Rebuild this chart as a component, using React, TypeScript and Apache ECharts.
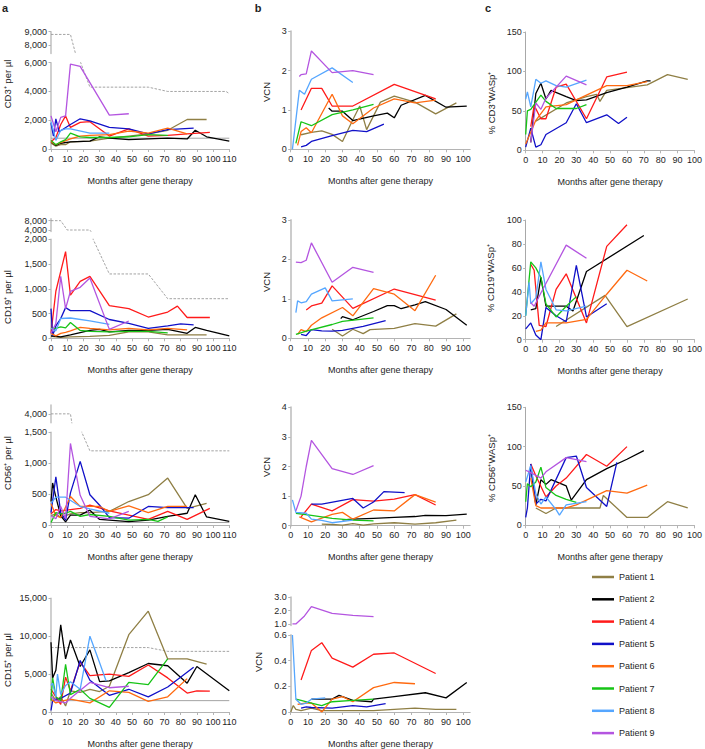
import React, { useEffect, useRef } from 'react';
import * as echarts from 'echarts';

type Pts = [number, number][];

const patients = ['Patient 1', 'Patient 2', 'Patient 4', 'Patient 5', 'Patient 6', 'Patient 7', 'Patient 8', 'Patient 9'];
const patientColors = ['#8f7f45', '#000000', '#ff1a1a', '#1010c8', '#ff6a10', '#16c416', '#55a6ff', '#b455e0'];
const monthTicksA = [0, 10, 20, 30, 40, 50, 60, 70, 80, 90, 100, 110];
const monthTicksBC = [0, 10, 20, 30, 40, 50, 60, 70, 80, 90, 100];

// ---- Row 1: CD3 ----
const cd3Counts: Pts[] = [
  [[0, 400], [3, 200], [6, 300], [9, 300], [12, 500], [24, 550], [36, 750], [48, 900], [60, 1050], [72, 1300], [84, 2050], [96, 2050]],
  [[0, 500], [3, 250], [6, 400], [12, 500], [24, 550], [30, 850], [36, 750], [48, 650], [60, 700], [72, 750], [84, 700], [89, 1300], [96, 850], [110, 550]],
  [[0, 500], [3, 800], [6, 1700], [9, 2300], [12, 1500], [18, 1850], [24, 1900], [36, 900], [48, 1400], [60, 900], [72, 950], [84, 1050], [98, 1150]],
  [[0, 1800], [1.5, 900], [3, 2100], [5, 1200], [12, 1700], [18, 2100], [24, 1950], [36, 1500], [48, 1400], [60, 1050], [72, 1350], [88, 1450]],
  [[0, 500], [3, 300], [6, 450], [12, 700], [18, 900], [24, 950], [36, 1000], [48, 1250], [60, 1100], [72, 1450], [84, 1050]],
  [[0, 600], [3, 300], [6, 500], [9, 650], [12, 1100], [18, 850], [24, 800], [36, 800], [48, 850], [60, 1000], [72, 950]],
  [[0, 1900], [3, 600], [6, 1300], [9, 1400], [12, 1400], [24, 1100], [36, 1100]],
  [[0, 2300], [3, 1200], [6, 2200], [9, 2300], [12, 5900], [18, 5750], [36, 2350], [48, 2450]],
];
const cd3UpperNormal: Pts = [[0, 8800], [12, 8800], [18, 6100], [24, 4300], [60, 4300], [72, 4000], [108, 4000], [110, 3850]];
const cd3LowerNormal: Pts = [[0, 750], [110, 750]];

const cd3Vcn: Pts[] = [
  [[6, 0.37], [12, 0.43], [18, 0.47], [24, 0.38], [30, 0.2], [36, 0.75], [40, 1.1], [44, 0.5], [52, 1.2], [60, 1.35], [72, 1.2], [84, 0.9], [96, 1.18]],
  [[22, 1.05], [24, 0.97], [30, 0.97], [36, 0.73], [48, 0.85], [56, 0.92], [60, 0.8], [64, 1.12], [78, 1.37], [90, 1.07], [102, 1.1]],
  [[6, 1.0], [12, 1.55], [18, 1.55], [24, 1.1], [36, 1.1], [60, 1.65], [84, 1.28]],
  [[6, 0.06], [9, 0.1], [12, 0.2], [24, 0.35], [36, 0.48], [44, 0.45], [54, 0.64]],
  [[4, 0.1], [6, 0.45], [9, 0.55], [12, 0.42], [24, 1.4], [30, 0.85], [36, 0.65], [48, 1.05], [60, 1.28], [72, 1.18], [84, 1.25]],
  [[3, 0.15], [6, 0.7], [12, 0.6], [24, 0.88], [36, 1.0], [48, 1.14]],
  [[1, 0.0], [5, 1.5], [8, 1.4], [12, 1.78], [24, 2.07], [36, 1.7]],
  [[5, 1.85], [6, 1.9], [9, 1.92], [12, 2.5], [24, 1.95], [36, 2.0], [48, 1.9]],
];

const cd3Wasp: Pts[] = [
  [[6, 37], [24, 60], [36, 68], [42, 71], [44, 62], [48, 76], [72, 83], [84, 96], [96, 90]],
  [[3, 10], [6, 72], [9, 85], [12, 65], [15, 76], [24, 68], [30, 63], [36, 64], [48, 73], [60, 80], [72, 88], [74, 88]],
  [[3, 30], [5, 57], [9, 40], [12, 40], [18, 80], [24, 84], [36, 40], [48, 93], [60, 99]],
  [[0, 4], [3, 28], [6, 4], [9, 7], [12, 20], [24, 35], [30, 59], [36, 35], [48, 45], [55, 34], [60, 42]],
  [[0, 8], [6, 38], [12, 55], [24, 58], [36, 70], [48, 82], [60, 82], [72, 87]],
  [[0, 20], [1, 50], [3, 52], [9, 70], [12, 62], [18, 53], [24, 53], [30, 53], [36, 58]],
  [[0, 65], [1, 74], [3, 55], [6, 90], [9, 85], [12, 88], [18, 82], [24, 80], [36, 89]],
  [[3, 10], [6, 60], [9, 52], [12, 66], [24, 94], [36, 83]],
];

// ---- Row 2: CD19 ----
const cd19Counts: Pts[] = [
  [[0, 40], [6, 20], [12, 30], [24, 40], [36, 60], [48, 130], [60, 130], [72, 70], [84, 70], [96, 70]],
  [[0, 50], [6, 30], [12, 70], [24, 160], [30, 180], [36, 130], [48, 160], [60, 160], [72, 180], [84, 100], [89, 220], [96, 160], [110, 50]],
  [[0, 100], [3, 950], [9, 1750], [12, 870], [18, 1150], [24, 1250], [36, 660], [48, 600], [60, 430], [72, 530], [78, 650], [84, 420], [98, 420]],
  [[0, 600], [1, 50], [3, 250], [6, 400], [9, 620], [12, 560], [24, 560], [36, 380], [48, 300], [60, 200], [72, 250], [80, 290], [88, 270]],
  [[0, 100], [3, 50], [6, 100], [9, 120], [12, 150], [18, 220], [24, 200], [36, 170], [48, 200], [60, 170], [72, 200], [84, 170]],
  [[0, 200], [3, 200], [6, 230], [9, 210], [12, 320], [18, 160], [24, 140], [36, 130], [48, 140], [60, 140], [72, 110]],
  [[0, 200], [3, 150], [6, 400], [12, 410], [24, 350], [36, 280]],
  [[0, 100], [3, 300], [6, 1250], [9, 600], [12, 950], [18, 1030], [24, 1220], [36, 180], [48, 350]],
];
const cd19UpperNormal: Pts = [[0, 8000], [6, 8000], [10, 4000], [24, 4000], [26, 2000], [36, 1300], [60, 1300], [72, 800], [110, 800]];

const cd19Vcn: Pts[] = [
  [[24, 0.23], [30, 0.06], [36, 0.23], [42, 0.12], [46, 0.22], [60, 0.25], [72, 0.37], [84, 0.31], [96, 0.62]],
  [[29, 0.5], [30, 0.55], [36, 0.47], [48, 0.68], [56, 0.83], [60, 0.83], [64, 0.75], [72, 0.85], [78, 0.93], [90, 0.73], [102, 0.33]],
  [[9, 0.72], [12, 0.82], [18, 0.89], [24, 1.33], [36, 0.76], [60, 1.25], [84, 0.97]],
  [[6, 0.1], [9, 0.07], [12, 0.22], [18, 0.19], [24, 0.18], [30, 0.2], [42, 0.3], [55, 0.45]],
  [[4, 0.1], [6, 0.22], [9, 0.17], [12, 0.33], [18, 0.52], [30, 0.78], [36, 0.57], [48, 1.26], [60, 1.12], [72, 0.7], [84, 1.6]],
  [[3, 0.1], [9, 0.18], [24, 0.35], [30, 0.43], [48, 0.52]],
  [[3, 0.65], [4, 0.95], [6, 0.9], [9, 0.93], [12, 1.12], [20, 1.28], [24, 0.95], [36, 1.0]],
  [[3, 1.93], [6, 1.92], [9, 1.98], [12, 2.42], [24, 1.42], [36, 1.8], [48, 1.67]],
];

const cd19Wasp: Pts[] = [
  [[18, 11], [47, 37], [60, 11], [96, 34]],
  [[3, 25], [6, 26], [9, 52], [12, 28], [24, 28], [28, 24], [36, 57], [70, 87]],
  [[3, 63], [5, 58], [8, 12], [12, 11], [18, 42], [24, 55], [36, 14], [48, 78], [60, 96]],
  [[0, 9], [3, 14], [6, 4], [9, 0], [12, 27], [18, 20], [24, 15], [30, 62], [36, 19], [48, 30]],
  [[6, 7], [9, 8], [12, 14], [24, 14], [36, 17], [48, 38], [60, 58], [72, 49]],
  [[0, 20], [3, 65], [6, 60], [9, 52], [12, 30], [18, 19], [24, 28], [30, 36]],
  [[0, 20], [2, 48], [3, 30], [6, 35], [9, 65], [12, 42], [18, 25], [24, 24], [36, 28]],
  [[3, 31], [5, 28], [9, 39], [24, 79], [36, 68]],
];

// ---- Row 3: CD56 ----
const cd56Counts: Pts[] = [
  [[0, 150], [3, 180], [6, 120], [12, 180], [18, 200], [24, 200], [36, 220], [48, 380], [60, 490], [72, 760], [84, 270], [96, 350]],
  [[0, 380], [1, 680], [3, 450], [6, 150], [9, 50], [12, 160], [18, 160], [24, 240], [30, 90], [36, 80], [48, 55], [60, 80], [72, 140], [84, 190], [89, 490], [96, 130], [110, 60]],
  [[0, 180], [3, 250], [6, 230], [12, 250], [18, 270], [24, 320], [36, 230], [48, 160], [60, 90], [72, 220], [84, 90], [98, 270]],
  [[0, 200], [3, 780], [6, 200], [9, 80], [12, 520], [18, 1030], [24, 490], [30, 320], [36, 120], [48, 110], [60, 300], [72, 280], [88, 280]],
  [[0, 350], [3, 150], [6, 120], [12, 460], [18, 300], [24, 300], [30, 300], [36, 220], [48, 310], [60, 200], [72, 300], [84, 300]],
  [[0, 40], [3, 200], [6, 180], [9, 190], [12, 220], [18, 140], [24, 170], [36, 140], [48, 80], [60, 90], [66, 60], [72, 130]],
  [[0, 350], [3, 450], [6, 450], [9, 450], [18, 300], [24, 260], [36, 190]],
  [[0, 150], [3, 100], [6, 300], [9, 100], [12, 1320], [18, 480], [24, 140], [36, 100], [48, 220]],
];
const cd56UpperNormal: Pts = [[0, 4000], [12, 4000], [19, 1500], [24, 1200], [110, 1200]];
const cd56LowerNormal: Pts = [[0, 40], [110, 40]];

const cd56Vcn: Pts[] = [
  [[18, 0.05], [24, 0.04], [30, 0.02], [36, 0.07], [42, 0.02], [48, 0.06], [60, 0.1], [72, 0.05], [84, 0.1], [96, 0.19]],
  [[30, 0.2], [36, 0.22], [48, 0.25], [60, 0.28], [72, 0.31], [78, 0.35], [90, 0.34], [102, 0.39]],
  [[6, 0.3], [12, 0.73], [24, 0.5], [36, 0.88], [48, 0.83], [60, 0.9], [72, 1.05], [84, 0.7]],
  [[12, 0.73], [18, 0.73], [36, 0.92], [42, 0.6], [48, 0.8], [54, 1.15], [66, 1.12]],
  [[5, 0.3], [12, 0.13], [24, 0.38], [30, 0.45], [36, 0.22], [48, 0.53], [60, 0.5], [72, 1.05], [84, 0.8]],
  [[3, 0.42], [12, 0.35], [24, 0.25], [36, 0.19], [48, 0.16]],
  [[1, 0.87], [3, 0.45], [9, 0.42], [12, 0.22], [18, 0.18], [24, 0.1], [36, 0.19]],
  [[3, 0.5], [6, 1.0], [9, 2.0], [12, 2.88], [24, 1.93], [36, 1.73], [48, 2.03]],
];

const cd56Wasp: Pts[] = [
  [[6, 22], [12, 15], [18, 22], [24, 22], [36, 22], [44, 22], [46, 38], [60, 10], [72, 10], [84, 30], [96, 22]],
  [[3, 74], [6, 26], [9, 58], [12, 52], [15, 58], [24, 50], [27, 32], [36, 58], [48, 72], [60, 84], [70, 95]],
  [[3, 78], [6, 63], [12, 36], [18, 50], [24, 60], [36, 90], [48, 75], [60, 100]],
  [[0, 10], [1, 22], [3, 78], [6, 27], [9, 33], [12, 31], [24, 86], [30, 88], [36, 48], [48, 24], [54, 80]],
  [[3, 60], [6, 25], [9, 22], [12, 22], [24, 22], [30, 26], [36, 32], [48, 44], [60, 41], [72, 51]],
  [[0, 30], [1, 53], [3, 49], [6, 55], [9, 74], [12, 48], [18, 38], [24, 33], [30, 29]],
  [[0, 55], [3, 76], [6, 40], [9, 27], [12, 36], [18, 20], [20, 13], [24, 26], [36, 30]],
  [[0, 70], [3, 67], [9, 60], [12, 68], [24, 86], [36, 81]],
];

// ---- Row 4: CD15 ----
const cd15Counts: Pts[] = [
  [[0, 2500], [3, 1500], [6, 2000], [9, 800], [12, 2800], [18, 2600], [24, 3000], [30, 2700], [36, 3400], [48, 10200], [60, 13300], [72, 7000], [84, 7000], [96, 6300]],
  [[0, 9200], [1, 4500], [3, 5500], [6, 11500], [9, 7000], [12, 9500], [18, 6000], [24, 8200], [30, 4000], [36, 4100], [48, 5200], [60, 6400], [72, 6100], [84, 3800], [90, 6000], [110, 2800]],
  [[0, 3000], [3, 2000], [6, 1000], [9, 4600], [12, 2800], [18, 6600], [24, 4800], [36, 5000], [48, 4700], [60, 6200], [72, 4500], [84, 2500], [90, 2800], [98, 2750]],
  [[0, 200], [1, 1500], [3, 1700], [6, 1800], [12, 2500], [18, 6800], [24, 4200], [36, 2200], [48, 3000], [60, 2000], [72, 3300], [88, 5900]],
  [[0, 1700], [3, 1200], [6, 1400], [12, 1700], [24, 1200], [36, 2800], [48, 2600], [60, 1400], [72, 2000], [84, 4400]],
  [[0, 1500], [1, 4500], [3, 2000], [6, 1500], [9, 6300], [12, 2300], [18, 3000], [24, 1800], [36, 600], [48, 3900], [60, 3600], [72, 7000]],
  [[0, 3500], [1, 3800], [3, 2000], [4, 5000], [6, 2300], [9, 3500], [12, 4000], [18, 3000], [24, 10000], [30, 6500], [34, 4100]],
  [[0, 2000], [3, 1500], [9, 1200], [12, 1800], [24, 3900], [36, 3200], [48, 3400]],
];
const cd15UpperNormal: Pts = [[0, 8500], [60, 8500], [72, 8000], [110, 8000]];
const cd15LowerNormal: Pts = [[0, 1500], [110, 1500]];

const cd15Vcn: Pts[] = [
  [[0, 0], [1.5, 0.05], [3, 0.02], [6, 0.01], [12, 0.03], [18, 0.01], [24, 0.01], [36, 0.01], [48, 0.01], [60, 0.02], [72, 0.03], [84, 0.02], [96, 0.02]],
  [[12, 0.1], [18, 0.1], [24, 0.1], [28, 0.13], [36, 0.09], [47, 0.08], [48, 0.1], [60, 0.12], [78, 0.15], [90, 0.11], [102, 0.23]],
  [[6, 0.25], [12, 0.48], [18, 0.54], [24, 0.42], [36, 0.35], [48, 0.45], [60, 0.46], [84, 0.3]],
  [[6, 0.03], [9, 0.04], [12, 0.035], [24, 0.03], [36, 0.05], [44, 0.04], [55, 0.065]],
  [[4, 0.06], [9, 0.07], [12, 0.07], [18, 0.0], [24, 0.1], [30, 0.12], [36, 0.08], [48, 0.19], [60, 0.23], [72, 0.22]],
  [[3, 0.1], [6, 0.09], [12, 0.07], [18, 0.05], [24, 0.08], [36, 0.09], [48, 0.1]],
  [[1, 0.6], [3, 0.1], [6, 0.06], [9, 0.07], [12, 0.1], [20, 0.11]],
  [[1, 1.0], [3, 1.0], [8, 1.6], [12, 2.3], [24, 1.8], [36, 1.65], [48, 1.55]],
];

const FONT = '"Liberation Sans", Arial, Helvetica, sans-serif';
const TXT = '#1e1e1e';
const AXIS_GREY = '#b4b4b4';
const REF_GREY = '#9a9a9a';

type Col = { left: number; width: number; xMax: number; xTicks: number[] };
type Spec = {
  col: Col; top: number; height: number; yMin: number; yMax: number; yTicks: number[];
  fmt: (v: number) => string; showX: boolean; yLine: { color: string; width: number };
};
type RefLine = { data: Pts; dashed: boolean };

const thousands = (v: number) => Math.round(v).toLocaleString('en-US');
const plain = (v: number) => String(v);
const oneDec = (v: number) => v.toFixed(1);

function buildOption() {
  const grid: any[] = [];
  const xAxis: any[] = [];
  const yAxis: any[] = [];
  const series: any[] = [];

  const add = (s: Spec, data: Pts[], refs: RefLine[] = []) => {
    const i = grid.length;
    grid.push({ left: s.col.left, top: s.top, width: s.col.width, height: s.height });
    xAxis.push({
      type: 'value', gridIndex: i, min: 0, max: s.col.xMax, show: s.showX,
      axisLine: { show: true, onZero: false, lineStyle: { color: AXIS_GREY, width: 1 } },
      axisTick: { show: true, length: 3, customValues: s.col.xTicks, lineStyle: { color: AXIS_GREY } },
      axisLabel: { fontSize: 9, color: TXT, margin: 5, fontFamily: FONT, customValues: s.col.xTicks },
      splitLine: { show: false },
      name: 'Months after gene therapy', nameLocation: 'middle', nameGap: 27,
      nameTextStyle: { fontSize: 9, color: TXT, fontFamily: FONT },
    });
    yAxis.push({
      type: 'value', gridIndex: i, min: s.yMin, max: s.yMax,
      axisLine: { show: true, lineStyle: s.yLine },
      axisTick: { show: true, length: 2.5, customValues: s.yTicks, lineStyle: { color: AXIS_GREY } },
      axisLabel: { fontSize: 9, color: TXT, margin: 4, fontFamily: FONT, customValues: s.yTicks, formatter: s.fmt },
      splitLine: { show: false },
    });
    refs.forEach((r) => series.push({
      type: 'line', xAxisIndex: i, yAxisIndex: i, data: r.data, symbol: 'none', silent: true, z: 1,
      lineStyle: { color: REF_GREY, width: 0.9, type: r.dashed ? [2.5, 1.5] : 'solid' },
    }));
    data.forEach((d, k) => series.push({
      type: 'line', name: patients[k], xAxisIndex: i, yAxisIndex: i, data: d, symbol: 'none', showSymbol: false,
      clip: true, z: 2, lineStyle: { color: patientColors[k], width: 1.3 }, itemStyle: { color: patientColors[k] },
    }));
  };

  const colA: Col = { left: 51, width: 178.3, xMax: 110, xTicks: monthTicksA };
  const colB: Col = { left: 290.7, width: 179.5, xMax: 104, xTicks: monthTicksBC };
  const colC: Col = { left: 525.7, width: 170.3, xMax: 100, xTicks: monthTicksBC };
  const lineA = { color: '#c4c4c4', width: 1.6 };
  const lineB = { color: '#cccccc', width: 2 };
  const lineC = { color: '#a8a8a8', width: 1 };

  // Row 1
  add({ col: colA, top: 62.7, height: 86.3, yMin: 0, yMax: 6000, yTicks: [0, 2000, 4000, 6000], fmt: thousands, showX: true, yLine: lineA },
    cd3Counts, [{ data: cd3UpperNormal, dashed: true }, { data: cd3LowerNormal, dashed: false }]);
  add({ col: colA, top: 31.7, height: 21.8, yMin: 7400, yMax: 9000, yTicks: [8000, 9000], fmt: thousands, showX: false, yLine: lineA },
    cd3Counts, [{ data: cd3UpperNormal, dashed: true }]);
  add({ col: colB, top: 31.3, height: 118, yMin: 0, yMax: 3, yTicks: [0, 1, 2, 3], fmt: plain, showX: true, yLine: lineB }, cd3Vcn);
  add({ col: colC, top: 32, height: 118.3, yMin: 0, yMax: 150, yTicks: [0, 50, 100, 150], fmt: plain, showX: true, yLine: lineC }, cd3Wasp);

  // Row 2
  add({ col: colA, top: 239.3, height: 99, yMin: 0, yMax: 2000, yTicks: [0, 500, 1000, 1500, 2000], fmt: thousands, showX: true, yLine: lineA },
    cd19Counts, [{ data: cd19UpperNormal, dashed: true }]);
  add({ col: colA, top: 218.8, height: 12.6, yMin: 3400, yMax: 8800, yTicks: [4000, 8000], fmt: thousands, showX: false, yLine: lineA },
    cd19Counts, [{ data: cd19UpperNormal, dashed: true }]);
  add({ col: colB, top: 220, height: 118.3, yMin: 0, yMax: 3, yTicks: [0, 1, 2, 3], fmt: plain, showX: true, yLine: lineB }, cd19Vcn);
  add({ col: colC, top: 220, height: 119.7, yMin: 0, yMax: 100, yTicks: [0, 20, 40, 60, 80, 100], fmt: plain, showX: true, yLine: lineC }, cd19Wasp);

  // Row 3
  add({ col: colA, top: 432.3, height: 92.7, yMin: 0, yMax: 1500, yTicks: [0, 500, 1000, 1500], fmt: thousands, showX: true, yLine: lineA },
    cd56Counts, [{ data: cd56UpperNormal, dashed: true }, { data: cd56LowerNormal, dashed: false }]);
  add({ col: colA, top: 405, height: 17.7, yMin: 3700, yMax: 4300, yTicks: [4000], fmt: thousands, showX: false, yLine: lineA },
    cd56Counts, [{ data: cd56UpperNormal, dashed: true }]);
  add({ col: colB, top: 407.3, height: 118.4, yMin: 0, yMax: 4, yTicks: [0, 1, 2, 3, 4], fmt: plain, showX: true, yLine: lineB }, cd56Vcn);
  add({ col: colC, top: 407.3, height: 118, yMin: 0, yMax: 150, yTicks: [0, 50, 100, 150], fmt: plain, showX: true, yLine: lineC }, cd56Wasp);

  // Row 4
  add({ col: colA, top: 598.3, height: 117.7, yMin: 0, yMax: 15000, yTicks: [0, 5000, 10000, 15000], fmt: thousands, showX: true, yLine: lineA },
    cd15Counts, [{ data: cd15UpperNormal, dashed: true }, { data: cd15LowerNormal, dashed: false }]);
  add({ col: colB, top: 635, height: 81.7, yMin: 0, yMax: 0.6, yTicks: [0, 0.2, 0.4, 0.6], fmt: plain, showX: true, yLine: lineB }, cd15Vcn);
  add({ col: colB, top: 597.3, height: 28, yMin: 0.9, yMax: 3, yTicks: [1, 2, 3], fmt: oneDec, showX: false, yLine: lineB }, cd15Vcn);

  const txt = (text: string, x: number, y: number, rot = true, size = 9.5, bold = false) => ({
    type: 'text', x, y, rotation: rot ? Math.PI / 2 : 0, silent: true,
    style: { text, fill: TXT, fontSize: size, fontFamily: FONT, fontWeight: bold ? 'bold' : 'normal', textAlign: 'center', textVerticalAlign: 'middle' },
  });

  const graphic = [
    txt('a', 5, 8, false, 11, true),
    txt('b', 258, 8, false, 11, true),
    txt('c', 488, 8, false, 11, true),
    txt('CD3\u207A per \u00B5l', 7, 84),
    txt('CD19\u207A per \u00B5l', 7, 297),
    txt('CD56\u207A per \u00B5l', 7, 463),
    txt('CD15\u207A per \u00B5l', 7, 660),
    txt('VCN', 266, 92),
    txt('VCN', 266, 282),
    txt('VCN', 266, 467),
    txt('VCN', 258, 662),
    txt('% CD3\u207AWASp\u207A', 491, 103),
    txt('% CD19\u207AWASp\u207A', 490, 278),
    txt('% CD56\u207AWASp\u207A', 491, 468),
  ];

  return {
    animation: false,
    backgroundColor: '#ffffff',
    textStyle: { fontFamily: FONT },
    grid, xAxis, yAxis, series, graphic,
    legend: {
      data: patients, orient: 'vertical', left: 592, top: 571, padding: 0, icon: 'rect',
      itemWidth: 22, itemHeight: 2.5, itemGap: 10.3, selectedMode: false,
      textStyle: { fontSize: 9, color: TXT, fontFamily: FONT, lineHeight: 12 },
    },
  };
}

export default function App() {
  const ref = useRef<HTMLDivElement>(null);
  useEffect(() => {
    if (!ref.current) return;
    const chart = echarts.init(ref.current, null, { renderer: 'svg' });
    chart.setOption(buildOption() as any);
    return () => chart.dispose();
  }, []);
  return <div ref={ref} style={{ position: 'fixed', left: 0, top: 0, width: 705, height: 749, background: '#fff' }} />;
}
